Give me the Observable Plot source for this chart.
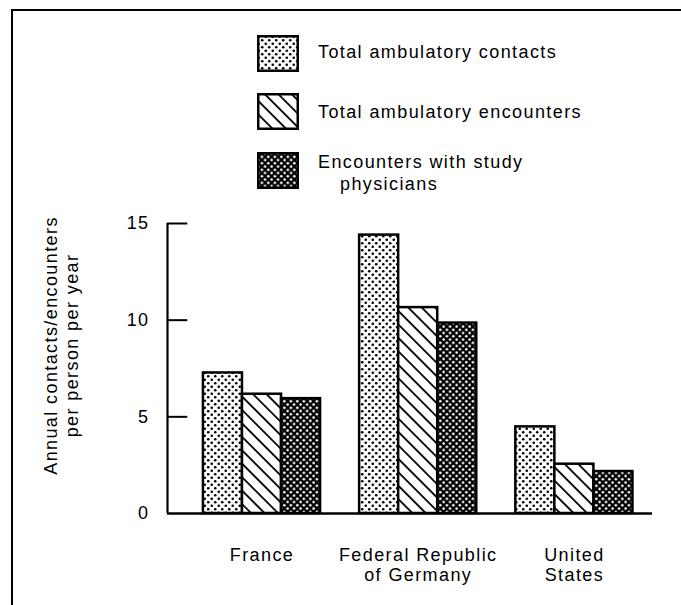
<!DOCTYPE html>
<html>
<head>
<meta charset="utf-8">
<script src="https://cdn.jsdelivr.net/npm/d3@7"></script>
<script src="https://cdn.jsdelivr.net/npm/@observablehq/plot@0.6"></script>
<style>
  html, body { margin: 0; padding: 0; background: #fff; }
  #wrap { position: relative; width: 681px; height: 605px; overflow: hidden; font-family: "Liberation Sans", Arial, sans-serif; color: #000; }
  .border-top { position: absolute; left: 11px; top: 9px; width: 670px; height: 2px; background: #000; }
  .border-left { position: absolute; left: 11px; top: 9px; width: 2px; height: 596px; background: #000; }
  .leg-sw { position: absolute; left: 257px; width: 42px; height: 37px; }
  .leg-tx { position: absolute; left: 318px; font-size: 18px; letter-spacing: 1.4px; line-height: 22px; white-space: nowrap; }
  #chart { position: absolute; left: 0; top: 0; }
</style>
</head>
<body>
<div id="wrap">
  <svg width="0" height="0" style="position:absolute">
    <defs>
      <pattern id="p-contacts" patternUnits="userSpaceOnUse" width="7" height="7">
        <rect width="7" height="7" fill="#fff"/>
        <circle cx="1.75" cy="1.75" r="1.3" fill="#000"/>
        <circle cx="5.25" cy="5.25" r="1.3" fill="#000"/>
      </pattern>
      <pattern id="p-enc" patternUnits="userSpaceOnUse" width="9.5" height="9.5" patternTransform="rotate(-45)">
        <rect width="9.5" height="9.5" fill="#fff"/>
        <line x1="4.75" y1="0" x2="4.75" y2="9.5" stroke="#000" stroke-width="1.8"/>
      </pattern>
      <pattern id="p-study" patternUnits="userSpaceOnUse" width="6.5" height="6.5">
        <rect width="6.5" height="6.5" fill="#000"/>
        <circle cx="1.6" cy="1.6" r="1.3" fill="#fff"/>
        <circle cx="4.85" cy="4.85" r="1.3" fill="#fff"/>
      </pattern>
    </defs>
  </svg>
  <div id="chart"></div>
  <div class="border-top"></div>
  <div class="border-left"></div>
  <div id="legend"></div>
</div>
<script>
// ---- Data ----
const countries = ["France", "Federal Republic\nof Germany", "United\nStates"];
const series = ["Total ambulatory contacts", "Total ambulatory encounters", "Encounters with study physicians"];
const contacts = [7.27, 14.4, 4.48];
const encounters = [6.17, 10.65, 2.55];
const study = [5.94, 9.85, 2.17];
const yTicks = [0, 5, 10, 15];
const yLabel = "Annual contacts/encounters\nper person per year";

// ---- Build table ----
const seriesValues = [contacts, encounters, study];
const groupStep = series.length + 1; // bars per group plus a gap slot
const rows = [];
countries.forEach((c, gi) => {
  series.forEach((s, si) => {
    rows.push({country: c, series: s, value: seriesValues[si][gi], x1: gi * groupStep + si, x2: gi * groupStep + si + 1});
  });
});
const labels = countries.map((c, gi) => ({country: c, xc: gi * groupStep + series.length / 2}));

const patterns = ["url(#p-contacts)", "url(#p-enc)", "url(#p-study)"];
const xMin = -0.92, xMax = 11.5;
const tickLen = 0.52;

const chart = Plot.plot({
  width: 681,
  height: 605,
  marginLeft: 167,
  marginRight: 29,
  marginTop: 223,
  marginBottom: 92,
  style: {fontFamily: "'Liberation Sans', Arial, sans-serif", fontSize: "18px", color: "#000", background: "transparent", letterSpacing: "1.4px"},
  x: {type: "linear", domain: [xMin, xMax], axis: null},
  y: {domain: [0, 15], axis: null},
  color: {type: "ordinal", domain: series, range: patterns},
  marks: [
    Plot.rectY(rows, {x1: "x1", x2: "x2", y1: 0, y2: "value", fill: "series", stroke: "#000", strokeWidth: 2.5, strokeLinejoin: "miter"}),
    Plot.ruleX([xMin], {y1: 0, y2: 15, stroke: "#000", strokeWidth: 2.2}),
    Plot.ruleY([0], {stroke: "#000", strokeWidth: 2.5}),
    Plot.ruleY(yTicks.filter(t => t > 0), {x1: xMin, x2: xMin + tickLen, stroke: "#000", strokeWidth: 2}),
    Plot.text(yTicks, {x: xMin, y: d => d, text: d => String(d), textAnchor: "end", dx: -18, fontSize: 18}),
    Plot.text(labels, {x: "xc", y: 0, text: "country", lineAnchor: "top", dy: 33, lineHeight: 1.11, fontSize: 18}),
    Plot.text([yLabel], {frameAnchor: "left", textAnchor: "middle", dx: -107, dy: -23, rotate: -90, lineHeight: 1.17, fontSize: 18})
  ]
});
document.getElementById("chart").appendChild(chart);

// ---- Legend ----
const legend = document.getElementById("legend");
const swTops = [35, 93, 152];
const txTops = [41, 101, 151];
series.forEach((s, i) => {
  const sw = document.createElementNS("http://www.w3.org/2000/svg", "svg");
  sw.setAttribute("class", "leg-sw");
  sw.setAttribute("width", 42);
  sw.setAttribute("height", 37);
  sw.style.top = swTops[i] + "px";
  const r = document.createElementNS("http://www.w3.org/2000/svg", "rect");
  r.setAttribute("x", 1.25); r.setAttribute("y", 1.25);
  r.setAttribute("width", 39.5); r.setAttribute("height", 34.5);
  r.setAttribute("fill", patterns[i]);
  r.setAttribute("stroke", "#000"); r.setAttribute("stroke-width", 2.5);
  sw.appendChild(r);
  legend.appendChild(sw);
  const tx = document.createElement("div");
  tx.className = "leg-tx";
  tx.style.top = txTops[i] + "px";
  if (i === 2) {
    tx.innerHTML = "Encounters with study<br><span style='padding-left:22px'>physicians</span>";
  } else {
    tx.textContent = s;
  }
  legend.appendChild(tx);
});
</script>
</body>
</html>
